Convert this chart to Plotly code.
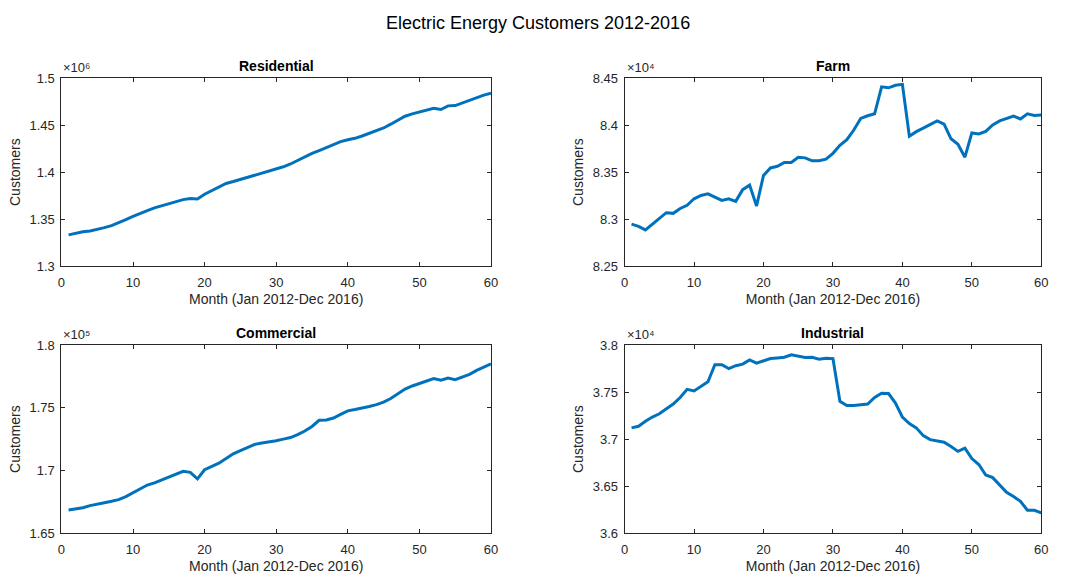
import plotly.graph_objects as go

months = list(range(1, 61))

residential = [1333300, 1335200, 1336600, 1337500, 1338900, 1341000, 1343200, 1346000, 1349500, 1353000,
               1356300, 1359000, 1362000, 1364300, 1366800, 1368800, 1370800, 1372000, 1371400, 1376500,
               1380300, 1384300, 1388000, 1390000, 1392200, 1394500, 1396500, 1398500, 1400500, 1402800,
               1405700, 1408700, 1412500, 1416500, 1420000, 1423000, 1426000, 1429500, 1432500, 1434500,
               1436000, 1438500, 1441200, 1444000, 1447000, 1451000, 1455500, 1459500, 1462000, 1464200,
               1466200, 1468000, 1466600, 1470500, 1470800, 1473500, 1476200, 1479500, 1482000, 1484000]

farm = [82948, 82924, 82886, 82948, 83010, 83069, 83062, 83114, 83148, 83217,
        83252, 83269, 83234, 83200, 83217, 83190, 83314, 83362, 83141, 83466,
        83545, 83562, 83603, 83603, 83659, 83652, 83621, 83621, 83638, 83700,
        83786, 83845, 83948, 84072, 84100, 84121, 84407, 84397, 84424, 84434,
        83883, 83931, 83969, 84010, 84045, 84010, 83855, 83797, 83659, 83917,
        83907, 83934, 84003, 84045, 84072, 84097, 84066, 84121, 84103, 84107]

commercial = [166843, 166930, 167025, 167200, 167336, 167430, 167540, 167674, 167920, 168245,
              168560, 168840, 169010, 169240, 169490, 169760, 169932, 169854, 169335, 170062,
              170300, 170580, 170950, 171333, 171580, 171826, 172085, 172189, 172260, 172370,
              172500, 172630, 172860, 173150, 173512, 174006, 174031, 174187, 174480, 174758,
              174860, 174966, 175100, 175251, 175459, 175744, 176130, 176497, 176740, 176938,
              177120, 177327, 177197, 177379, 177249, 177440, 177665, 177980, 178235, 178495]

industrial = [37120, 37137, 37190, 37235, 37270, 37322, 37374, 37443, 37530, 37513,
              37558, 37610, 37791, 37791, 37750, 37781, 37798, 37843, 37809, 37833,
              37857, 37864, 37871, 37896, 37878, 37868, 37871, 37850, 37861, 37857,
              37402, 37357, 37357, 37364, 37374, 37443, 37489, 37485, 37384, 37235,
              37165, 37120, 37037, 36995, 36981, 36967, 36922, 36870, 36904, 36793,
              36730, 36619, 36591, 36515, 36435, 36390, 36338, 36244, 36244, 36216]

x_ticks = [0, 10, 20, 30, 40, 50, 60]

res_ticks = [1.3e6, 1.35e6, 1.4e6, 1.45e6, 1.5e6]
res_labels = ["1.3", "1.35", "1.4", "1.45", "1.5"]
farm_ticks = [82500, 83000, 83500, 84000, 84500]
farm_labels = ["8.25", "8.3", "8.35", "8.4", "8.45"]
com_ticks = [165000, 170000, 175000, 180000]
com_labels = ["1.65", "1.7", "1.75", "1.8"]
ind_ticks = [36000, 36500, 37000, 37500, 38000]
ind_labels = ["3.6", "3.65", "3.7", "3.75", "3.8"]

titles = ["Residential", "Farm", "Commercial", "Industrial"]
exponents = ["×10⁶", "×10⁴", "×10⁵", "×10⁴"]
series = [residential, farm, commercial, industrial]
yticks = [res_ticks, farm_ticks, com_ticks, ind_ticks]
ylabels = [res_labels, farm_labels, com_labels, ind_labels]

W, H = 1078, 586
# pixel boxes: left, right, top, bottom
boxes = [(58, 492, 73, 266), (627, 1048, 73, 266), (58, 492, 347, 540), (627, 1048, 347, 540)]

FONT = "Liberation Sans, Arial, Helvetica, sans-serif"
AX = "#262626"
LINE = "#0072BD"

fig = go.Figure()
layout = dict(
    width=W, height=H,
    margin=dict(l=0, r=0, t=0, b=0),
    paper_bgcolor="white", plot_bgcolor="white",
    showlegend=False,
    font=dict(family=FONT, size=13, color=AX),
)
annotations = [dict(text="Electric Energy Customers 2012-2016", x=0.5, y=1 - 16 / H, xref="paper", yref="paper",
                    showarrow=False, font=dict(size=18, color="black", family=FONT), xanchor="center", yanchor="middle")]

for i in range(4):
    l, r, t, b = boxes[i]
    xa = "xaxis" if i == 0 else f"xaxis{i+1}"
    ya = "yaxis" if i == 0 else f"yaxis{i+1}"
    xs = "x" if i == 0 else f"x{i+1}"
    ys = "y" if i == 0 else f"y{i+1}"
    fig.add_trace(go.Scatter(x=months, y=series[i], mode="lines", line=dict(color=LINE, width=3),
                             xaxis=xs, yaxis=ys, hoverinfo="x+y"))
    layout[xa] = dict(domain=[l / W, r / W], anchor=ys, range=[0, 60], tickvals=x_ticks,
                      ticks="inside", ticklen=4, tickcolor=AX, showline=True, linecolor=AX, linewidth=1,
                      mirror="ticks", showgrid=False, zeroline=False, ticklabelstandoff=4,
                      tickfont=dict(size=13, color=AX, family=FONT),
                      title=dict(text="Month (Jan 2012-Dec 2016)", font=dict(size=14, color=AX, family=FONT), standoff=5))
    layout[ya] = dict(domain=[1 - b / H, 1 - t / H], anchor=xs, range=[yticks[i][0], yticks[i][-1]],
                      tickvals=yticks[i], ticktext=ylabels[i],
                      ticks="inside", ticklen=4, tickcolor=AX, showline=True, linecolor=AX, linewidth=1,
                      mirror="ticks", showgrid=False, zeroline=False, ticklabelstandoff=3,
                      tickfont=dict(size=13, color=AX, family=FONT),
                      title=dict(text="Customers", font=dict(size=14, color=AX, family=FONT), standoff=5))
    annotations.append(dict(text=f"<b>{titles[i]}</b>", x=(l + r) / 2 / W, y=1 - (t - 12) / H,
                            xref="paper", yref="paper", showarrow=False, xanchor="center", yanchor="middle",
                            font=dict(size=14, color="black", family=FONT)))
    annotations.append(dict(text=exponents[i], x=l / W, y=1 - (t - 1) / H,
                            xref="paper", yref="paper", showarrow=False, xanchor="left", yanchor="bottom",
                            font=dict(size=13, color=AX, family=FONT)))

layout["annotations"] = annotations
fig.update_layout(**layout)
fig.write_html("out.html", config={"displayModeBar": False},
               post_script="document.body.style.margin='0px';document.body.style.overflow='hidden';")
